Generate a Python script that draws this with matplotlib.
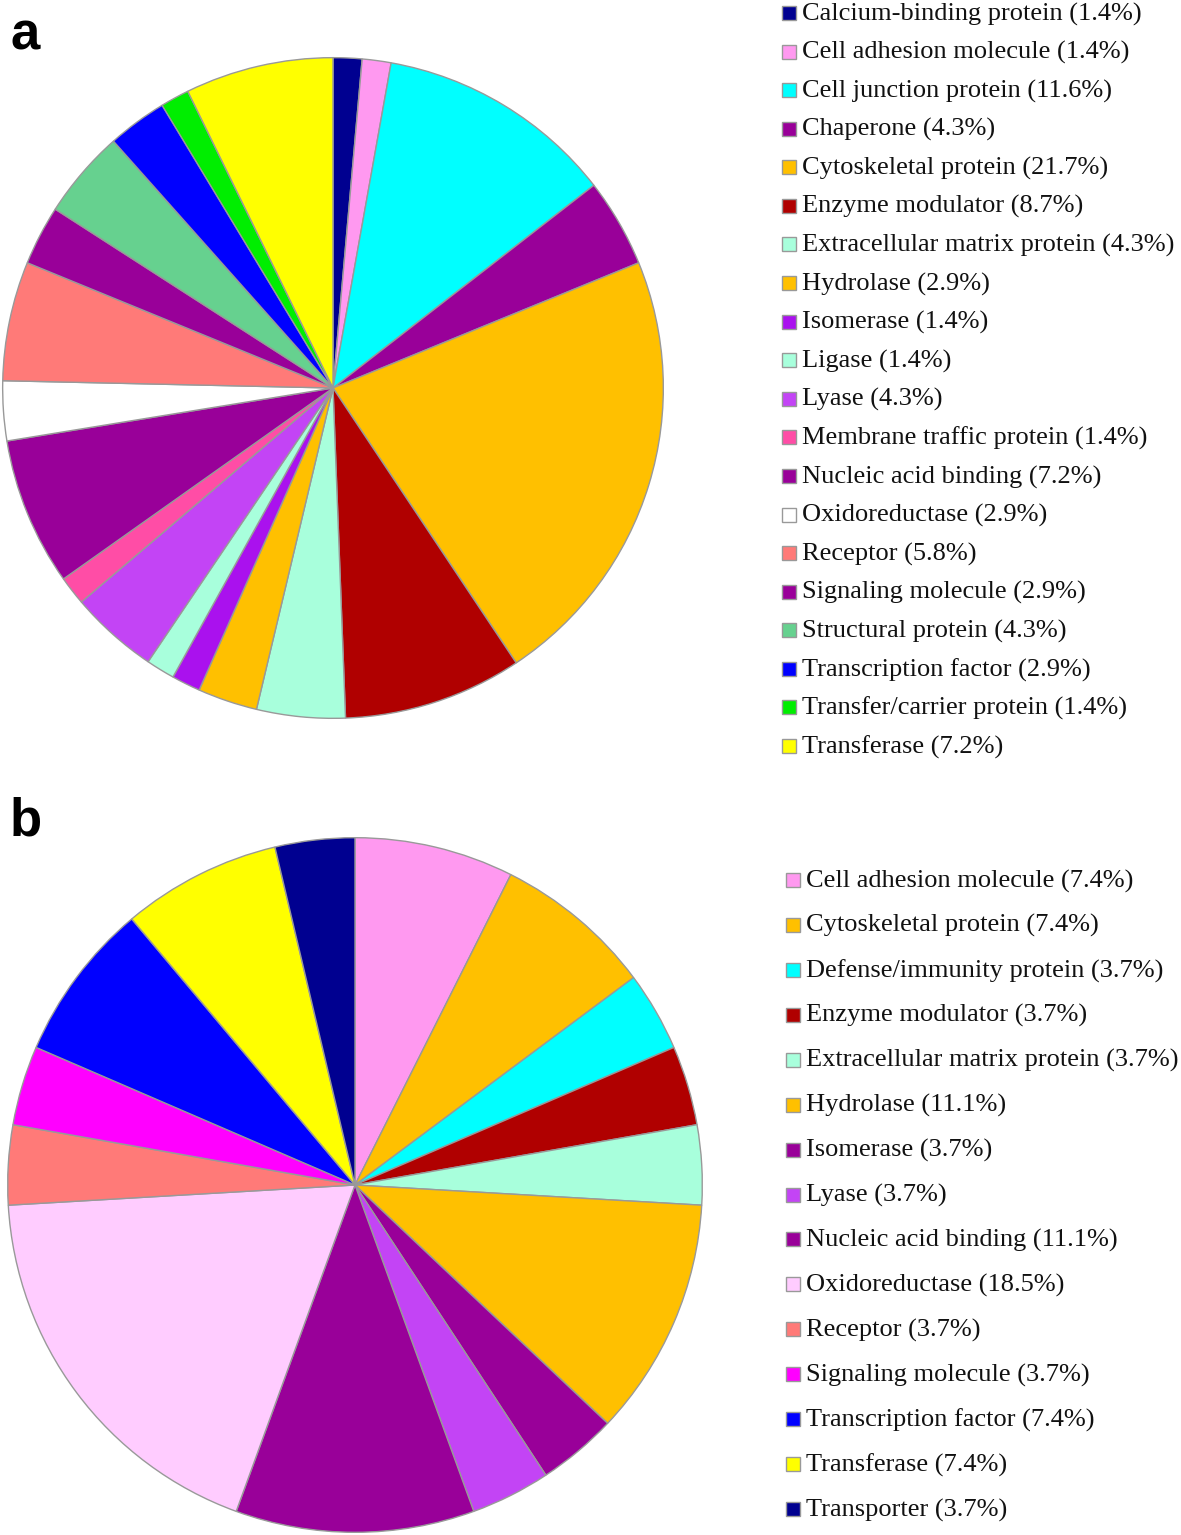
import matplotlib
matplotlib.use('Agg')
import matplotlib.pyplot as plt
from matplotlib.patches import Rectangle

# panel a
names_a = ['Calcium-binding protein', 'Cell adhesion molecule', 'Cell junction protein',
           'Chaperone', 'Cytoskeletal protein', 'Enzyme modulator',
           'Extracellular matrix protein', 'Hydrolase', 'Isomerase', 'Ligase', 'Lyase',
           'Membrane traffic protein', 'Nucleic acid binding', 'Oxidoreductase',
           'Receptor', 'Signaling molecule', 'Structural protein', 'Transcription factor',
           'Transfer/carrier protein', 'Transferase']
pct_a = [1.4, 1.4, 11.6, 4.3, 21.7, 8.7, 4.3, 2.9, 1.4, 1.4, 4.3, 1.4, 7.2, 2.9,
         5.8, 2.9, 4.3, 2.9, 1.4, 7.2]
colors_a = ['#000090', '#FF99F0', '#00FFFF', '#990099', '#FFC000', '#B00000',
            '#A8FFDC', '#FFC000', '#AA11EE', '#A8FFDC', '#C344F5', '#FF4DA6',
            '#990099', '#FFFFFF', '#FF7A78', '#990099', '#66D18F', '#0000FF',
            '#00EE00', '#FFFF00']

# panel b
names_b = ['Cell adhesion molecule', 'Cytoskeletal protein', 'Defense/immunity protein',
           'Enzyme modulator', 'Extracellular matrix protein', 'Hydrolase', 'Isomerase',
           'Lyase', 'Nucleic acid binding', 'Oxidoreductase', 'Receptor',
           'Signaling molecule', 'Transcription factor', 'Transferase', 'Transporter']
pct_b = [7.4, 7.4, 3.7, 3.7, 3.7, 11.1, 3.7, 3.7, 11.1, 18.5, 3.7, 3.7, 7.4, 7.4, 3.7]
colors_b = ['#FF99F0', '#FFC000', '#00FFFF', '#B00000', '#A8FFDC', '#FFC000',
            '#990099', '#C344F5', '#990099', '#FFCCFF', '#FF7A78', '#FF00FF',
            '#0000FF', '#FFFF00', '#000090']

W, H = 1181, 1535
fig = plt.figure(figsize=(W / 100, H / 100), dpi=100)
fig.patch.set_facecolor('white')


def draw_pie(cx, cy, r, vals, cols):
    ax = fig.add_axes([(cx - r) / W, 1 - (cy + r) / H, 2 * r / W, 2 * r / H])
    ax.pie(vals, colors=cols, startangle=90, counterclock=False, radius=1,
           wedgeprops=dict(edgecolor='#999999', linewidth=1.0))
    ax.set_xlim(-1.002, 1.002)
    ax.set_ylim(-1.002, 1.002)
    ax.axis('off')


def draw_legend(x_sq, y0, step, names, vals, cols):
    for i, (n, v, c) in enumerate(zip(names, vals, cols)):
        yc = y0 + i * step
        fig.patches.append(Rectangle((x_sq / W, 1 - (yc + 7) / H), 14 / W, 14 / H,
                                     transform=fig.transFigure, facecolor=c,
                                     edgecolor='#999999', linewidth=1.0))
        fig.text((x_sq + 20) / W, 1 - (yc + 1) / H, '%s (%.1f%%)' % (n, v),
                 fontsize=19, family='Liberation Serif', va='center', ha='left',
                 color='#111111')


draw_pie(333, 388, 331, pct_a, colors_a)
draw_pie(355, 1185, 348, pct_b, colors_b)
draw_legend(782, 13, 38.58, names_a, pct_a, colors_a)
draw_legend(786, 880, 44.93, names_b, pct_b, colors_b)

fig.text(10 / W, 1 - 50 / H, 'a', fontsize=38, fontweight='bold',
         family='Liberation Sans', va='baseline')
fig.text(10 / W, 1 - 836 / H, 'b', fontsize=38, fontweight='bold',
         family='Liberation Sans', va='baseline')

fig.savefig('out.png', dpi=100, facecolor='white')
